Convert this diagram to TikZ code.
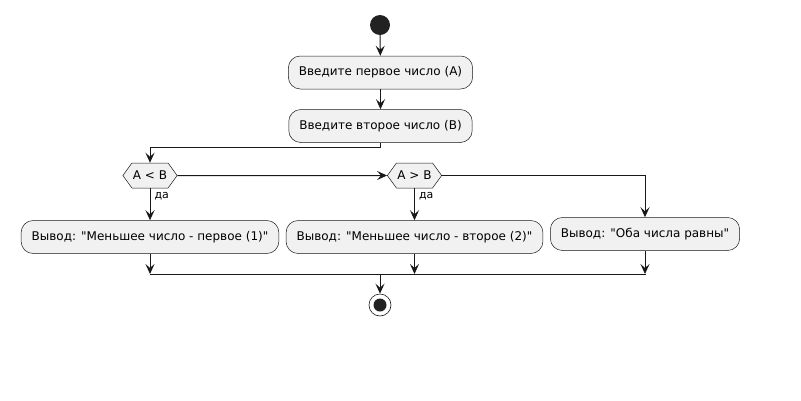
\documentclass[tikz,border=0pt]{standalone}
\usepackage{fontspec}
\setmainfont{DejaVu Sans}
\usetikzlibrary{shapes.symbols,arrows.meta}
\definecolor{actfill}{HTML}{F1F1F1}
\definecolor{linecol}{HTML}{181818}
\definecolor{dotcol}{HTML}{222222}

\begin{document}
\begin{tikzpicture}[x=1pt,y=-1pt,
		act/.style={draw=linecol,line width=0.5pt,fill=actfill,rounded corners=12pt,minimum height=33pt,inner xsep=10.5pt,font=\fontsize{12}{14}\selectfont},
		cond/.style={draw=linecol,line width=0.5pt,fill=actfill,signal,signal to=west and east,signal pointer angle=108,minimum height=25pt,minimum width=54pt,inner sep=1pt,font=\fontsize{12}{14}\selectfont},
		yes/.style={anchor=north west,inner sep=1pt,xshift=3pt,yshift=-3pt,font=\fontsize{11}{13}\selectfont},
		begin/.style={circle,fill=dotcol,minimum size=20pt,inner sep=0pt},
		stop/.style={circle,draw=linecol,line width=0.6pt,fill=white,minimum size=22pt,inner sep=0pt,
			path picture={\fill[dotcol] (path picture bounding box.center) circle (6.5pt);}},
		flow/.style={draw=linecol,line width=1pt,-{Stealth[length=10pt,width=9pt,inset=4pt]}},
		line/.style={draw=linecol,line width=1pt}]
	\useasboundingbox (0,0) rectangle (801,400);
	\node[begin] (start) at (380,25) {};
	\node[act] (first) at (380.5,72.5) {Введите первое число (A)};
	\node[act] (second) at (380.5,126) {Введите второе число (B)};
	\node[cond] (less) at (150,175.5) {A < B};
	\node[cond] (more) at (414.5,175.5) {A > B};
	\node[act] (outa) at (150,237) {Вывод: \textquotedbl Меньшее число - первое (1)\textquotedbl};
	\node[act] (outb) at (414.5,237) {Вывод: \textquotedbl Меньшее число - второе (2)\textquotedbl};
	\node[act] (outc) at (645,234) {Вывод: \textquotedbl Оба числа равны\textquotedbl};
	\coordinate (joinl) at (150,274);
	\coordinate (joinr) at (646,274);
	\coordinate (joinm) at (380,274);
	\node[stop] (end) at (380,305) {};
	\path
	(start) edge[flow] (first)
	(first) edge[flow] (second)
	(less) edge[flow] (more)
	(less.south) edge[flow] node[yes,pos=0] {да} (outa.north)
	(more.south) edge[flow] node[yes,pos=0] {да} (outb.north)
	(outa) edge[flow] (outa |- joinl)
	(outb) edge[flow] (outb |- joinl)
	(outc) edge[flow] (outc |- joinl)
	(joinl) edge[line] (joinr)
	(joinm) edge[flow] (end);
	\draw[flow] (second.south) -- ++(0,5) -| (less.north);
	\draw[flow] (more.east) -| (outc.north);
\end{tikzpicture}
\end{document}
